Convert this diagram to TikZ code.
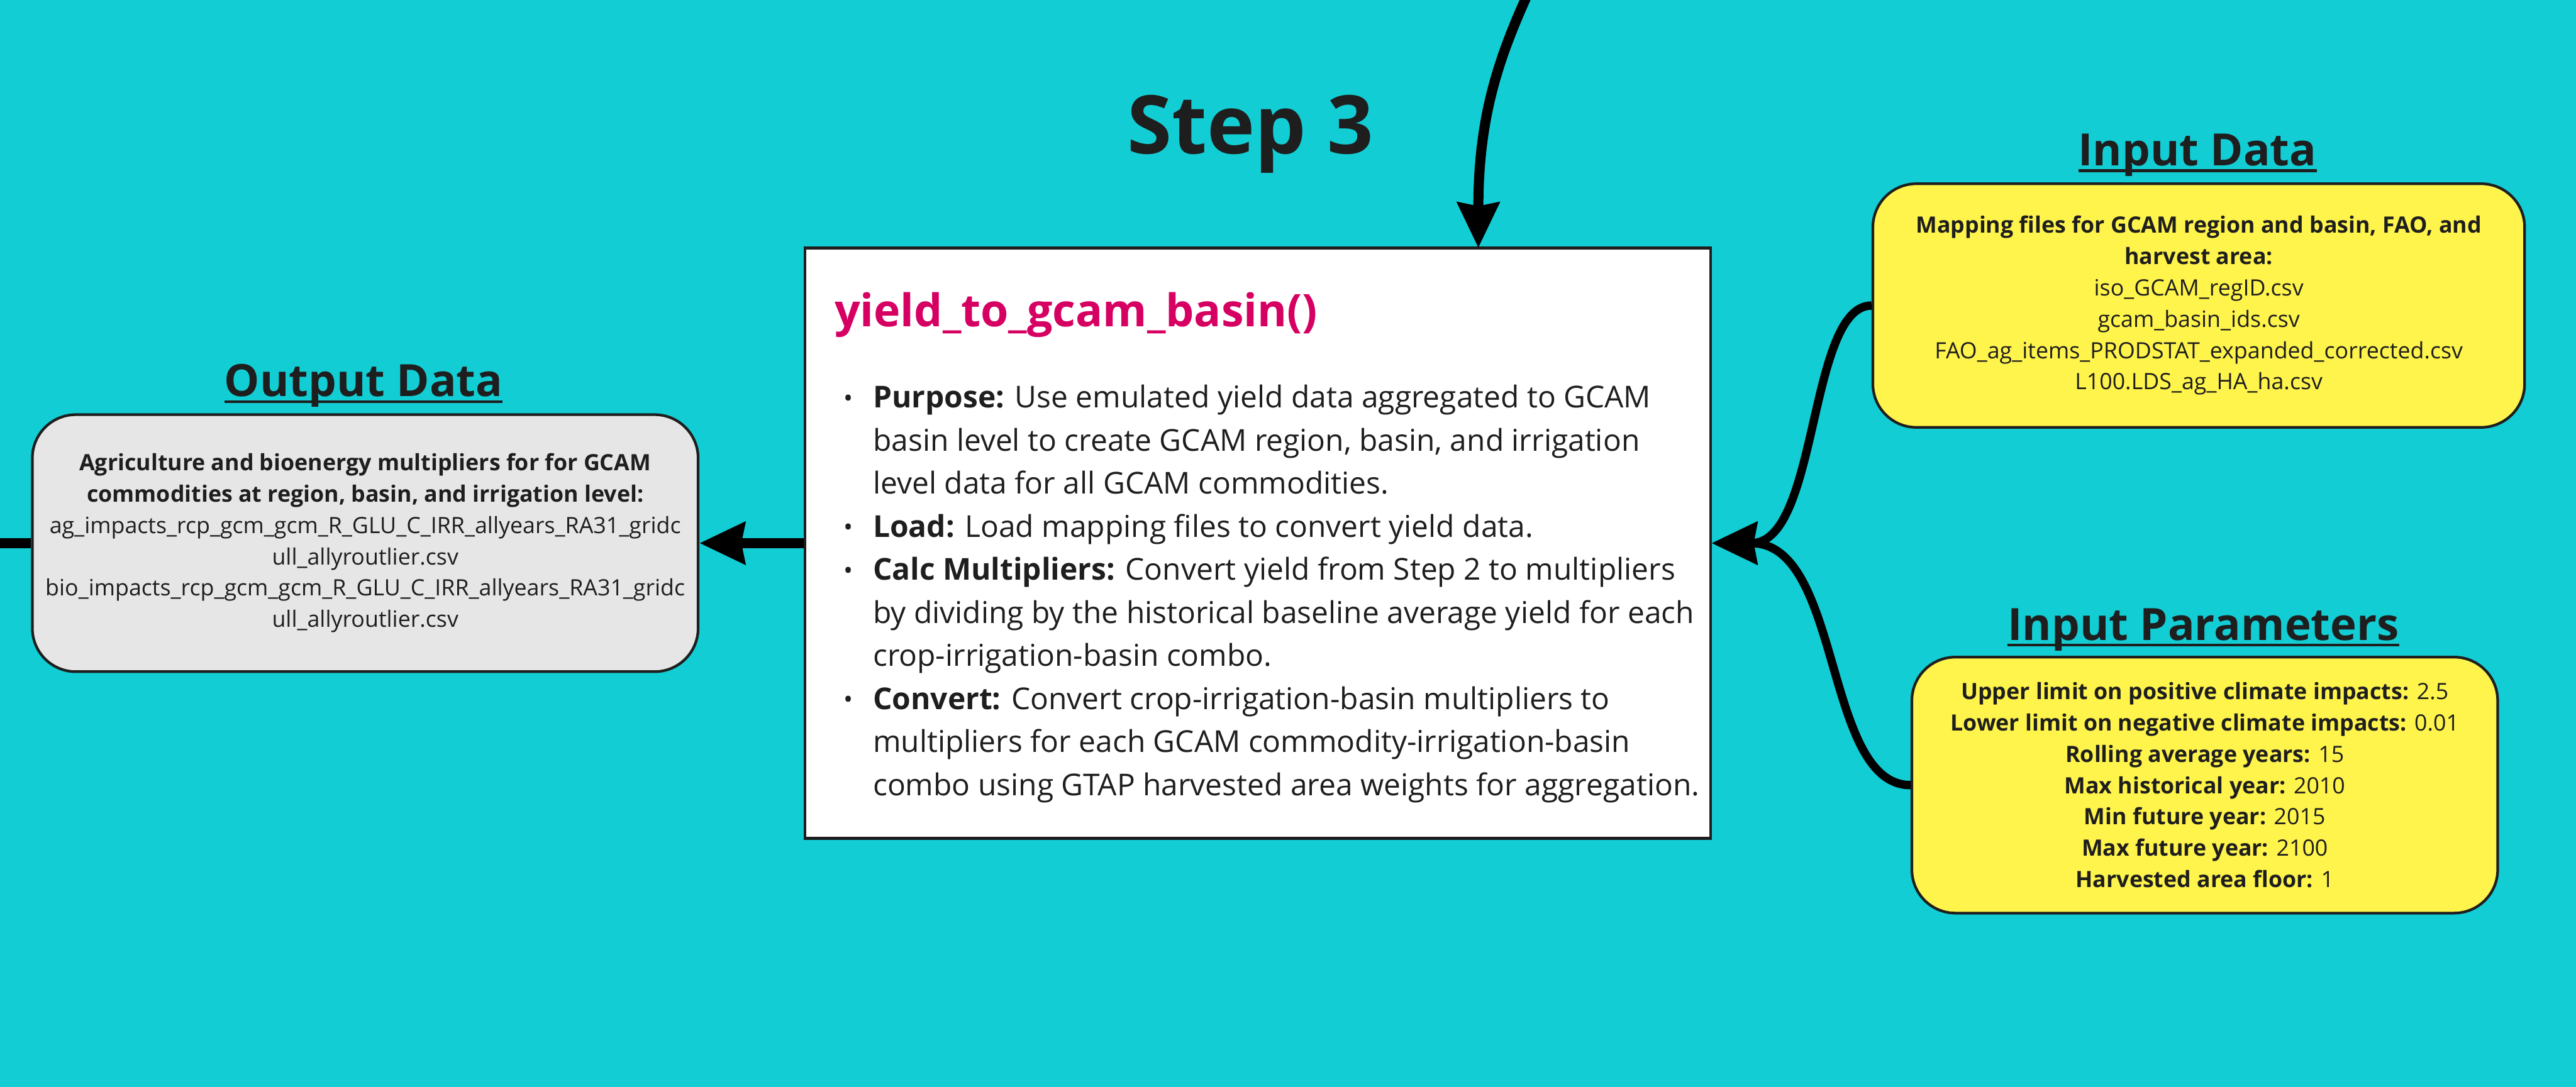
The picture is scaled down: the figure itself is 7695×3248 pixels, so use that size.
\documentclass[tikz,border=0pt]{standalone}
\usepackage{fontspec}
\setmainfont{Open Sans}
\usetikzlibrary{arrows.meta}
\definecolor{bg}{RGB}{19,205,212}
\definecolor{ink}{RGB}{30,30,30}
\definecolor{pinkt}{RGB}{214,0,98}
\definecolor{yel}{RGB}{255,244,76}
\definecolor{gry}{RGB}{230,230,230}
\newcommand{\myul}[1]{\setbox0\hbox{#1}\rlap{\rule[-1.9pt]{\wd0}{0.8pt}}\box0}
\newcommand{\bul}{\makebox[8.7pt][l]{\raisebox{0.3pt}{\fontsize{7.5}{7.5}\selectfont •}}}
\newcommand{\ind}{\hspace*{8.7pt}}
\begin{document}
\begin{tikzpicture}[x=0.1pt,y=-0.1pt,
  mainbox/.style={draw=ink, line width=0.8pt, fill=white, minimum width=270.5pt, minimum height=176.4pt, inner sep=0pt},
  roundbox/.style={draw=ink, line width=0.8pt, rounded corners=13pt, align=center, inner sep=0pt, text=ink, font=\fontsize{6.72}{9.35}\selectfont},
  heading/.style={font=\bfseries\fontsize{13.3}{16}\selectfont, text=ink, anchor=base, inner sep=0pt},
  conn/.style={line width=3pt, -{Stealth[length=13.5pt,width=12.3pt,inset=1pt]}},
  connc/.style={line width=2.5pt, -{Stealth[length=13.5pt,width=12.5pt,inset=1pt]}}
]
\useasboundingbox (0,0) rectangle (7695,3248);
\clip (0,0) rectangle (7695,3248);
\fill[bg] (0,0) rectangle (7695,3248);

\node[heading, font=\bfseries\fontsize{24.2}{28}\selectfont] (step) at (3736,460) {Step 3};

\node[mainbox] (main) at (3757,1623) {};
\node[anchor=base west, inner sep=0pt, text=pinkt, font=\bfseries\fontsize{13.45}{16}\selectfont] (title) at (2491,975) {yield\_to\_gcam\_basin()};
\node[anchor=base west, inner sep=0pt, text=ink, font=\fontsize{9}{12.87}\selectfont] (body) at (2519,1219) {\parbox[t]{300pt}{\baselineskip=12.87pt
\bul\textbf{Purpose:} Use emulated yield data aggregated to GCAM\\
\ind basin level to create GCAM region, basin, and irrigation\\
\ind level data for all GCAM commodities.\\
\bul\textbf{Load:} Load mapping files to convert yield data.\\
\bul\textbf{Calc Multipliers:} Convert yield from Step 2 to multipliers\\
\ind by dividing by the historical baseline average yield for each\\
\ind crop-irrigation-basin combo.\\
\bul\textbf{Convert:} Convert crop-irrigation-basin multipliers to\\
\ind multipliers for each GCAM commodity-irrigation-basin\\
\ind combo using GTAP harvested area weights for aggregation.}};

\node[heading] (inhead) at (6564,495) {\myul{Input Data}};
\node[roundbox, fill=yel, minimum width=194.7pt, minimum height=72.8pt] (indata) at (6568,913) {\textbf{Mapping files for GCAM region and basin, FAO, and}\\ \textbf{harvest area:}\\ iso\_GCAM\_regID.csv\\ gcam\_basin\_ids.csv\\ FAO\_ag\_items\_PRODSTAT\_expanded\_corrected.csv\\ L100.LDS\_ag\_HA\_ha.csv};

\node[heading] (parhead) at (6582,1913) {\myul{Input Parameters}};
\node[roundbox, fill=yel, minimum width=175pt, minimum height=76.5pt] (params) at (6586,2346) {\textbf{Upper limit on positive climate impacts:} 2.5\\ \textbf{Lower limit on negative climate impacts:} 0.01\\ \textbf{Rolling average years:} 15\\ \textbf{Max historical year:} 2010\\ \textbf{Min future year:} 2015\\ \textbf{Max future year:} 2100\\ \textbf{Harvested area floor:} 1};

\node[heading] (outhead) at (1086,1185) {\myul{Output Data}};
\node[roundbox, fill=gry, minimum width=198.9pt, minimum height=76.8pt] (outbox) at (1091,1623) {\textbf{Agriculture and bioenergy multipliers for for GCAM}\\ \textbf{commodities at region, basin, and irrigation level:}\\ ag\_impacts\_rcp\_gcm\_gcm\_R\_GLU\_C\_IRR\_allyears\_RA31\_gridc\\ ull\_allyroutlier.csv\\ bio\_impacts\_rcp\_gcm\_gcm\_R\_GLU\_C\_IRR\_allyears\_RA31\_gridc\\ ull\_allyroutlier.csv};

\coordinate (topsrc) at (4560,-10);
\coordinate (topend) at (4416,741);
\coordinate (leftsrc) at (-20,1623);

\draw[conn] (main.west) -- (outbox.east);
\draw[line width=3pt] (leftsrc) -- (outbox.west);
\draw[conn] (topsrc) .. controls +(-90,200) and +(0,-380) .. (topend);
\draw[connc] (indata.west) .. controls +(-190,0) and +(320,0) .. (main.east);
\draw[connc] (params.west) .. controls +(-260,0) and +(390,0) .. (main.east);
\end{tikzpicture}
\end{document}
